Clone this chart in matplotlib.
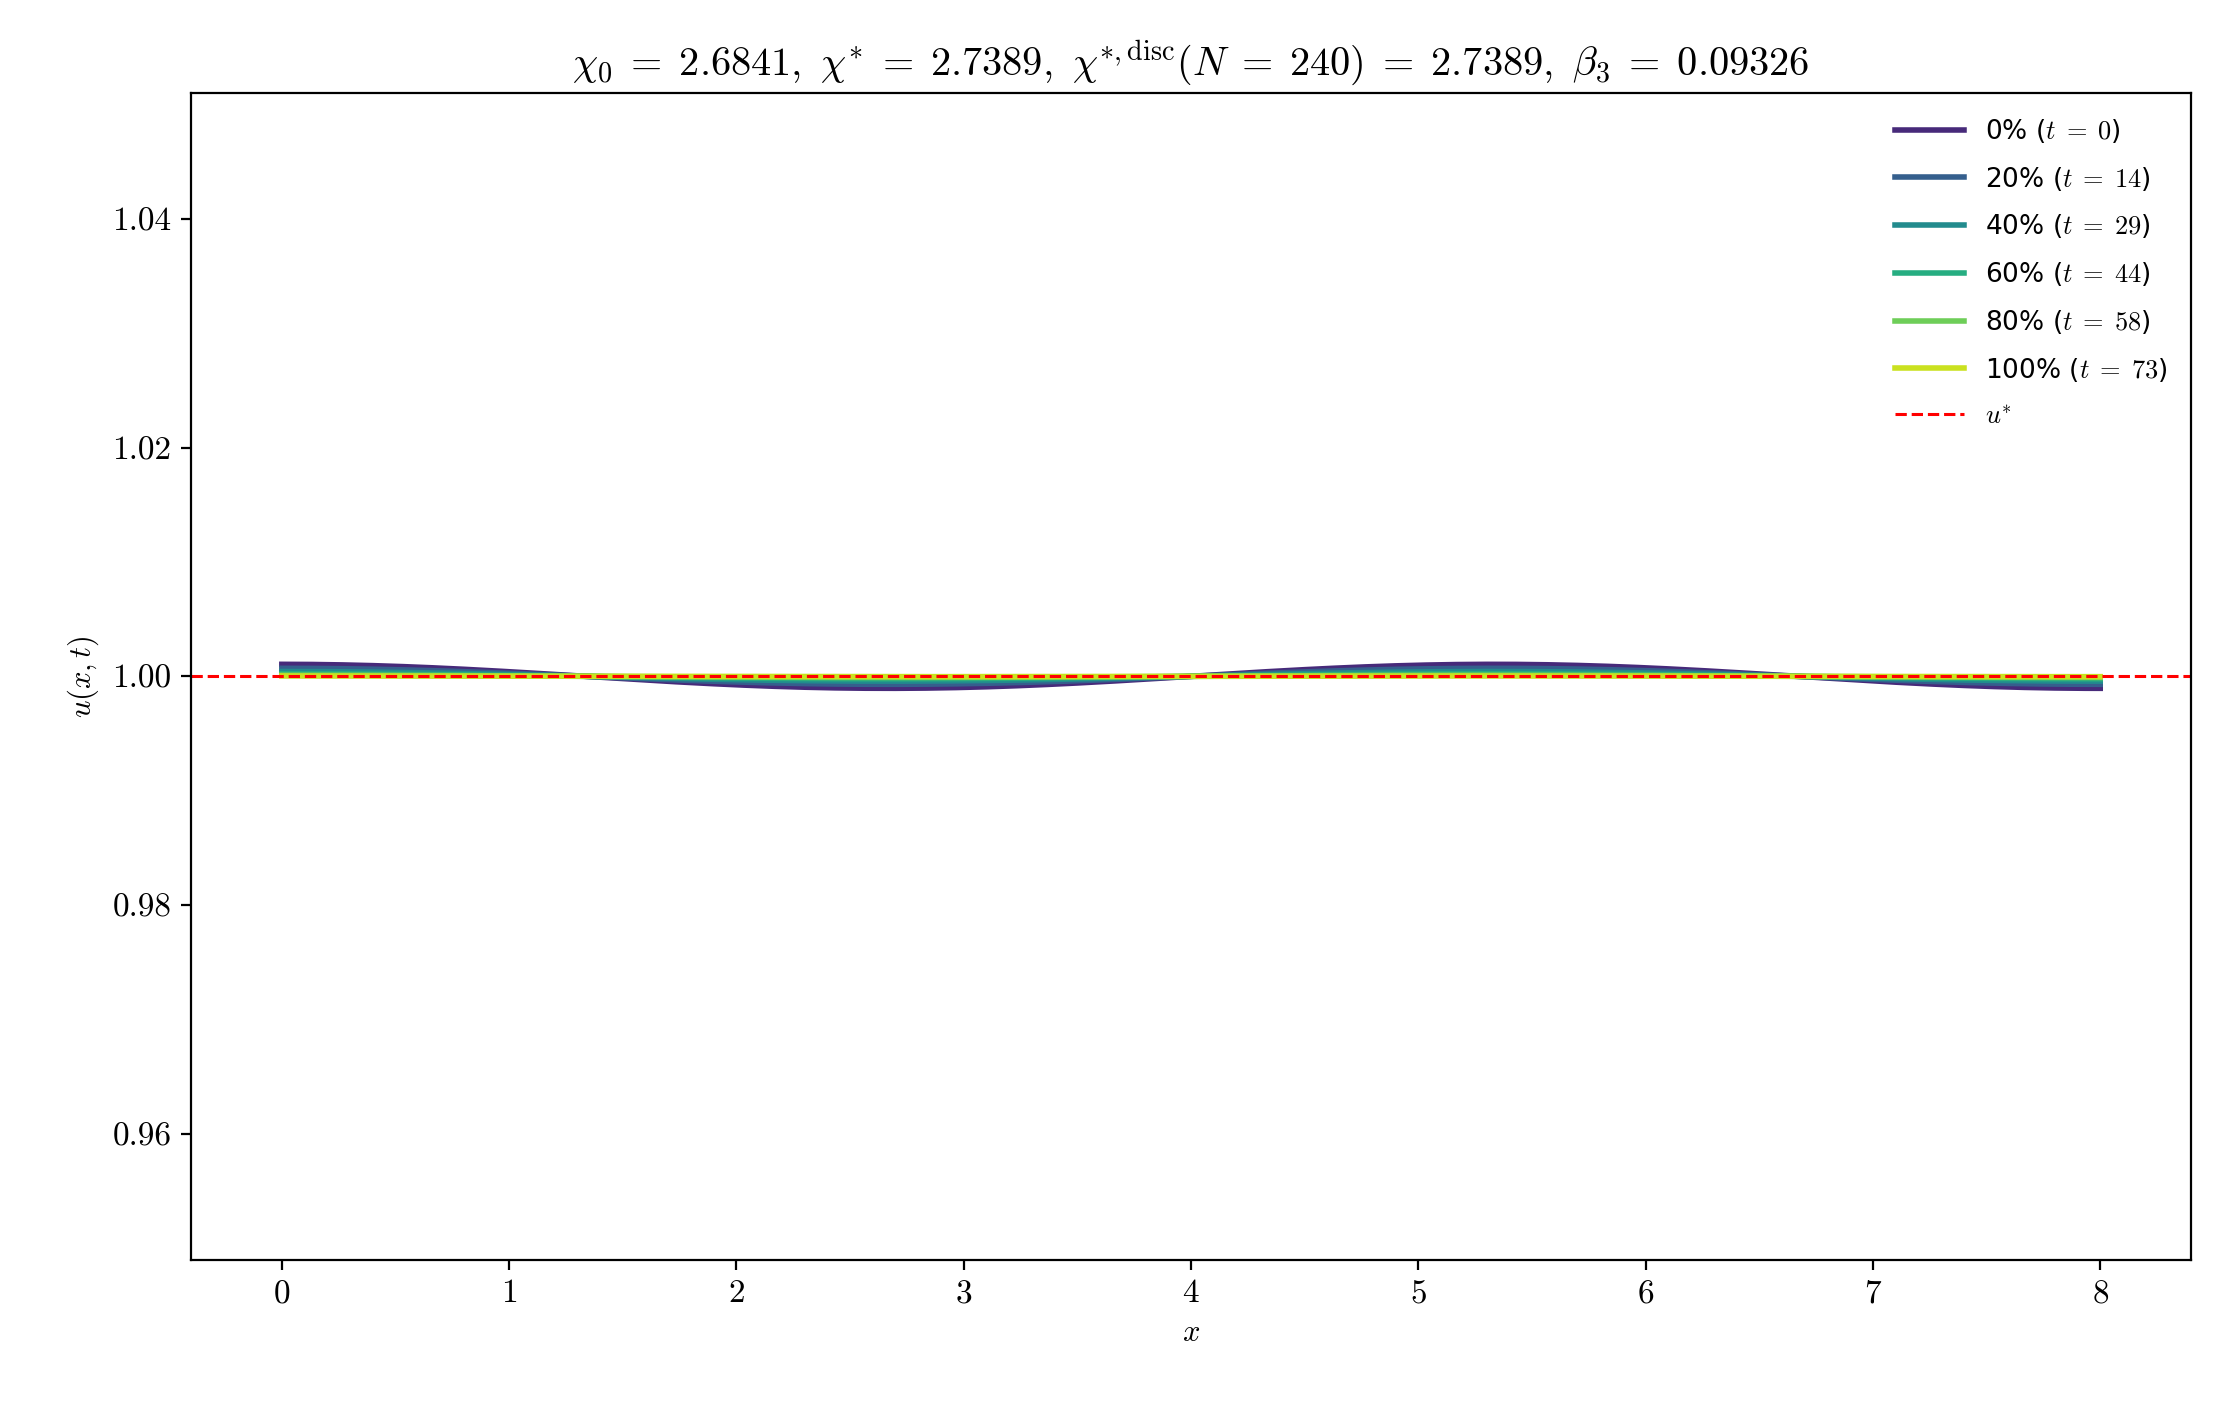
import numpy as np
import matplotlib
matplotlib.use("Agg")
import matplotlib.pyplot as plt

plt.rcParams['mathtext.fontset'] = 'cm'
plt.rcParams['font.family'] = 'serif'
plt.rcParams['font.serif'] = ['cmr10', 'DejaVu Serif']
plt.rcParams['axes.formatter.use_mathtext'] = True

# data
percent_labels = ["0%", "20%", "40%", "60%", "80%", "100%"]
times = [0, 14, 29, 44, 58, 73]
amplitudes = [0.00105, 0.0007, 0.00042, 0.00022, 0.0001, 0.00003]  # mode amplitude per snapshot
u_star = 1.0
L = 8.0
mode_k = 3 * np.pi / 8  # dominant Fourier mode of the profile
cmap_pos = [0.12, 0.3, 0.48, 0.62, 0.78, 0.92]

x = np.linspace(0, L, 241)
fig = plt.figure(figsize=(11.1, 7.045), dpi=200)
ax = fig.add_axes([0.086, 0.106, 0.901, 0.828])
cmap = plt.get_cmap('viridis')
for lab, t, a, c in zip(percent_labels, times, amplitudes, cmap_pos):
    ax.plot(x, u_star + a * np.cos(mode_k * x), color=cmap(c), lw=2.0,
            label=lab + r" ($t\;=\;%d$)" % t)
ax.axhline(u_star, color='red', ls='--', lw=1.1, label=r"$u^{*}$")
ax.set_xlim(-0.4, 8.4)
ax.set_ylim(0.949, 1.051)
ax.set_yticks([0.96, 0.98, 1.00, 1.02, 1.04])
ax.set_yticklabels(["0.96", "0.98", "1.00", "1.02", "1.04"])
ax.tick_params(labelsize=12)
ax.set_xlabel(r"$x$", fontsize=11)
ax.set_ylabel(r"$u(x,t)$", fontsize=11)
ax.set_title(r"$\chi_0\;=\;2.6841,\ \chi^{*}\;=\;2.7389,\ \chi^{*,\mathrm{disc}}(N\;=\;240)\;=\;2.7389,\ \beta_3\;=\;0.09326$",
             fontsize=14.5)
ax.legend(loc='upper right', frameon=False, handlelength=2.6, labelspacing=0.75,
          prop={'family': 'DejaVu Sans', 'size': 9.5})
fig.savefig("out.png", dpi=200)
